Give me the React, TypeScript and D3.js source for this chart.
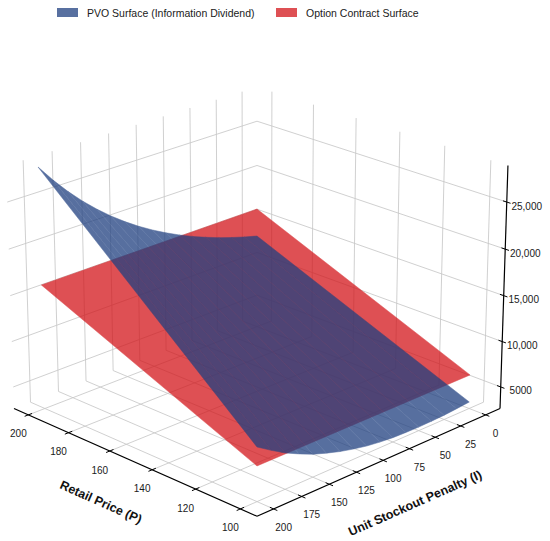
import { useEffect, useRef } from 'react'
import * as d3 from 'd3'

// tick values and labels
const priceTicks = [100, 120, 140, 160, 180, 200]
const penaltyTicks = [0, 25, 50, 75, 100, 125, 150, 175, 200]
const profitTicks = [5000, 10000, 15000, 20000, 25000]
const profitTickLabels = ['5000', '10,000', '15,000', '20,000', '25,000']

// surface grids: rows at the two price edges, columns along the penalty
const gridPrice = [100, 200]
const pvoPenalty = [0, 12.5, 25, 37.5, 50, 62.5, 75, 87.5, 100, 112.5, 125, 137.5, 150, 162.5, 175, 187.5, 200]
const pvoAtLowPrice = [3330, 3195, 3080, 3030, 3000, 3025, 3080, 3220, 3420, 3720, 4080, 4540, 5050, 5720, 6450, 7360, 8336]
const pvoAtHighPrice = [13112, 13524, 13980, 14484, 15041, 15657, 16339, 17092, 17925, 18846, 19866, 20991, 22238, 23615, 25137, 26823, 28684]
const optionPenalty = [0, 200]
const optionAtLowPrice = [6330, 6356]
const optionAtHighPrice = [16196, 16149]

const seriesNames = ['PVO Surface (Information Dividend)', 'Option Contract Surface']
const seriesColors = ['#204080', '#d3161b']

// axis limits
const priceLim = [95, 205]
const penaltyLim = [-10, 210]
const profitLim = [3130, 28305]

const WIDTH = 550
const HEIGHT = 541
const FONT = '"Liberation Sans", Arial, sans-serif'

export default function App() {
  const ref = useRef<SVGSVGElement>(null)

  useEffect(() => {
    if (!ref.current) return
    const svg = d3.select(ref.current)
    svg.selectAll('*').remove()

    // camera
    const azim = 135
    const elev = 22
    const dist = 17.5
    const scale = 174.6
    const cx = 257
    const cy = 289
    const zh = 0.75

    const az = (azim * Math.PI) / 180
    const el = (elev * Math.PI) / 180
    const right = [-Math.sin(az), Math.cos(az), 0]
    const view = [Math.cos(el) * Math.cos(az), Math.cos(el) * Math.sin(az), Math.sin(el)]
    const up = [-Math.sin(el) * Math.cos(az), -Math.sin(el) * Math.sin(az), Math.cos(el)]

    const pad = (lim: number[]) => {
      const m = (lim[1] - lim[0]) / 48
      return [lim[0] - m, lim[1] + m]
    }
    const xs = d3.scaleLinear().domain(pad(priceLim)).range([-1, 1])
    const ys = d3.scaleLinear().domain(pad(penaltyLim)).range([-1, 1])
    const zs = d3.scaleLinear().domain(pad(profitLim)).range([-zh, zh])

    const proj = (p: number[]): [number, number] => {
      const dot = (a: number[]) => a[0] * p[0] + a[1] * p[1] + a[2] * p[2]
      const w = 1 - dot(view) / dist
      return [cx + (scale * dot(right)) / w, cy - (scale * dot(up)) / w]
    }
    const seg = (g: any, a: number[], b: number[], color: string, width: number) => {
      const [x1, y1] = proj(a)
      const [x2, y2] = proj(b)
      g.append('line')
        .attr('x1', x1).attr('y1', y1).attr('x2', x2).attr('y2', y2)
        .attr('stroke', color).attr('stroke-width', width)
    }

    // panes grid
    const grid = svg.append('g')
    const gc = '#c8c8c8'
    const gw = 0.85
    priceTicks.forEach(P => {
      seg(grid, [xs(P), -1, -zh], [xs(P), 1, -zh], gc, gw)
      seg(grid, [xs(P), -1, -zh], [xs(P), -1, zh], gc, gw)
    })
    penaltyTicks.forEach(I => {
      seg(grid, [-1, ys(I), -zh], [1, ys(I), -zh], gc, gw)
      seg(grid, [1, ys(I), -zh], [1, ys(I), zh], gc, gw)
    })
    profitTicks.forEach(z => {
      seg(grid, [1, -1, zs(z)], [1, 1, zs(z)], gc, gw)
      seg(grid, [-1, -1, zs(z)], [1, -1, zs(z)], gc, gw)
    })

    // axes
    const axes = svg.append('g')
    seg(axes, [-1, 1, -zh], [1, 1, -zh], '#000', 1.2)
    seg(axes, [-1, -1, -zh], [-1, 1, -zh], '#000', 1.2)
    seg(axes, [-1, -1, -zh], [-1, -1, zh], '#000', 1.2)

    const d = 2 / 12
    const tin = 0.17 * d
    const tout = 0.17 * d
    const label = (x: number, y: number, text: string) =>
      axes.append('text')
        .attr('x', x).attr('y', y)
        .attr('text-anchor', 'middle')
        .attr('dominant-baseline', 'central')
        .style('font-family', FONT)
        .style('font-size', '10px')
        .style('fill', '#1a1a1a')
        .text(text)

    priceTicks.forEach(P => {
      seg(axes, [xs(P), 1 - tin, -zh], [xs(P), 1 + tout, -zh], '#000', 1)
      const [x, y] = proj([xs(P), 1, -zh])
      label(x - 10, y + 19, String(P))
    })
    penaltyTicks.forEach(I => {
      seg(axes, [-1 + tin, ys(I), -zh], [-1 - tout, ys(I), -zh], '#000', 1)
      const [x, y] = proj([-1, ys(I), -zh])
      label(x + 10, y + 18.5, String(I))
    })
    profitTicks.forEach((z, i) => {
      seg(axes, [-1 + tin, -1, zs(z)], [-1 - tout, -1, zs(z)], '#000', 1)
      const [x, y] = proj([-1, -1, zs(z)])
      label(x + 20, y + 4, profitTickLabels[i])
    })

    // axis titles
    const title = (a: number[], b: number[], dx: number, dy: number, text: string) => {
      const p1 = proj(a)
      const p2 = proj(b)
      const ang = (Math.atan2(p2[1] - p1[1], p2[0] - p1[0]) * 180) / Math.PI
      const m = proj([(a[0] + b[0]) / 2, (a[1] + b[1]) / 2, (a[2] + b[2]) / 2])
      axes.append('text')
        .attr('transform', `translate(${m[0] + dx},${m[1] + dy}) rotate(${ang})`)
        .attr('text-anchor', 'middle')
        .attr('dominant-baseline', 'central')
        .style('font-family', FONT)
        .style('font-size', '12.5px')
        .style('font-weight', 'bold')
        .style('fill', '#111')
        .text(text)
    }
    title([1, 1, -zh], [-1, 1, -zh], -30, 42, 'Retail Price (P)')
    title([-1, 1, -zh], [-1, -1, -zh], 32, 43, 'Unit Stockout Penalty (I)')

    // surfaces
    const line = d3.line<[number, number]>().curve(d3.curveLinearClosed)
    const surface = (penalty: number[], low: number[], high: number[], color: string) => {
      const g = svg.append('g').attr('opacity', 0.75)
      for (let j = 0; j < penalty.length - 1; j++) {
        const pts = [
          proj([xs(gridPrice[0]), ys(penalty[j]), zs(low[j])]),
          proj([xs(gridPrice[0]), ys(penalty[j + 1]), zs(low[j + 1])]),
          proj([xs(gridPrice[1]), ys(penalty[j + 1]), zs(high[j + 1])]),
          proj([xs(gridPrice[1]), ys(penalty[j]), zs(high[j])]),
        ]
        g.append('path')
          .attr('d', line(pts))
          .attr('fill', color)
          .attr('stroke', color)
          .attr('stroke-width', 0.5)
          .attr('stroke-linejoin', 'round')
      }
    }
    surface(optionPenalty, optionAtLowPrice, optionAtHighPrice, seriesColors[1])
    surface(pvoPenalty, pvoAtLowPrice, pvoAtHighPrice, seriesColors[0])

    // legend
    const legend = svg.append('g')
    const legendX = [57, 276]
    seriesNames.forEach((name, i) => {
      legend.append('rect')
        .attr('x', legendX[i]).attr('y', 8).attr('width', 21).attr('height', 9)
        .attr('fill', seriesColors[i]).attr('opacity', 0.75)
      legend.append('text')
        .attr('x', legendX[i] + 30).attr('y', 12.5)
        .attr('dominant-baseline', 'central')
        .style('font-family', FONT)
        .style('font-size', '10.5px')
        .style('fill', '#1a1a1a')
        .text(name)
    })
  }, [])

  return (
    <svg
      ref={ref}
      width={WIDTH}
      height={HEIGHT}
      style={{ position: 'absolute', left: 0, top: 0, background: '#fff' }}
    />
  )
}
